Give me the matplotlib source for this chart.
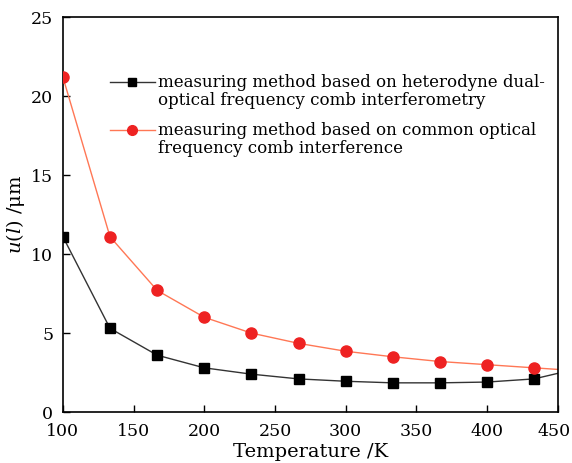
import numpy as np
import matplotlib
matplotlib.use('Agg')
import matplotlib.pyplot as plt
import matplotlib.transforms as mtrans

plt.rcParams['font.family'] = 'DejaVu Serif'
plt.rcParams['mathtext.fontset'] = 'dejavuserif'

# temperature points (K)
temp = [100, 133.3, 166.7, 200, 233.3, 266.7, 300, 333.3, 366.7, 400, 433.3]
dual_comb = [11.1, 5.3, 3.6, 2.8, 2.4, 2.1, 1.95, 1.85, 1.85, 1.9, 2.1]
common_comb = [21.2, 11.1, 7.7, 6.0, 5.0, 4.35, 3.85, 3.5, 3.2, 3.0, 2.8]
# curve continues to the right edge
edge_T = 450
edge_dual = 2.45
edge_common = 2.7

lab_dual = ['measuring method based on heterodyne dual-',
            'optical frequency comb interferometry']
lab_common = ['measuring method based on common optical',
              'frequency comb interference']

line_dark = '#333333'
line_red = '#ff7755'
mk_red = '#ee2222'

fig = plt.figure(figsize=(5.72, 4.63), dpi=100)
ax = fig.add_axes([0.110, 0.110, 0.865, 0.853])

ax.plot(temp + [edge_T], dual_comb + [edge_dual], color=line_dark, lw=1.0, zorder=2)
ax.plot(temp, dual_comb, 's', color='black', ms=7, zorder=3)
ax.plot(temp + [edge_T], common_comb + [edge_common], color=line_red, lw=1.0, zorder=2)
ax.plot(temp, common_comb, 'o', color=mk_red, ms=8, zorder=3)

# hand-made legend: handle sits on the first text row
tf = ax.transAxes
rows = [(0.835, 0.790, lab_dual, line_dark, 's', 'black', 6),
        (0.714, 0.668, lab_common, line_red, 'o', mk_red, 7)]
for y1, y2, lab, lc, mk, mc, ms in rows:
    ax.plot([0.095, 0.186], [y1, y1], color=lc, lw=1.0, transform=tf, clip_on=False)
    ax.plot([0.14], [y1], mk, color=mc, ms=ms, transform=tf, clip_on=False)
    ax.text(0.192, y1, lab[0], transform=tf, fontsize=12, va='center', ha='left')
    ax.text(0.192, y2, lab[1], transform=tf, fontsize=12, va='center', ha='left')

ax.set_xlim(100, 450)
ax.set_ylim(0, 25)
ax.set_xticks([100, 150, 200, 250, 300, 350, 400, 450])
ax.set_yticks([0, 5, 10, 15, 20, 25])
ax.tick_params(direction='in', labelsize=12.5, length=5, width=1, top=False, right=False)
ax.tick_params(axis='x', pad=8)
ax.tick_params(axis='y', pad=7)
for s in ax.spines.values():
    s.set_linewidth(1.2)

# keep the last x label inside the canvas
last = ax.get_xticklabels()[-1]
last.set_transform(last.get_transform() + mtrans.ScaledTranslation(-4 / 100, 0, fig.dpi_scale_trans))

ax.set_xlabel('Temperature /K', fontsize=14, labelpad=2)
ax.set_ylabel(r'$u(l)$ /μm', fontsize=14, labelpad=3)

fig.savefig('out.png', dpi=100)
